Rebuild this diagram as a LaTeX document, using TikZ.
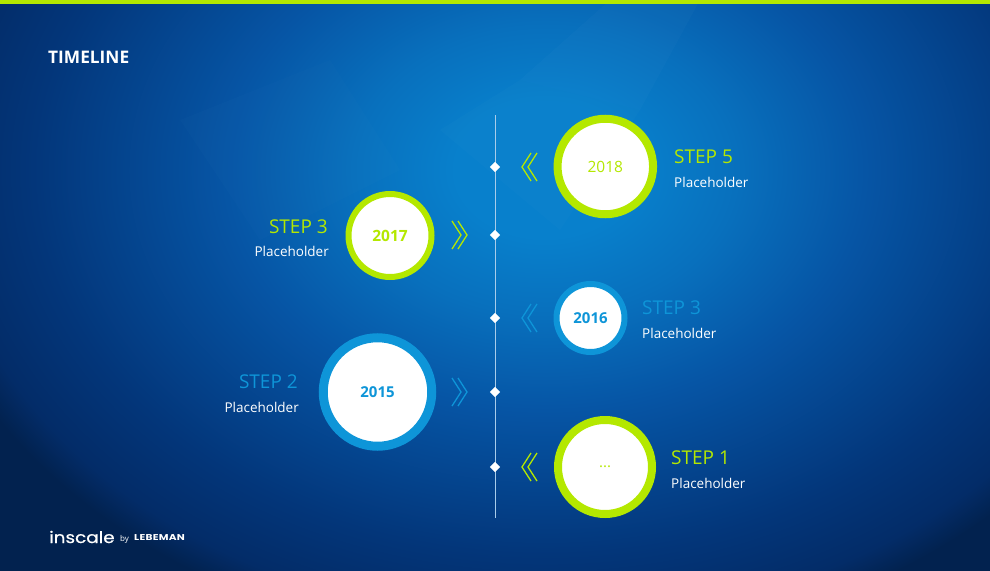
\documentclass[tikz,border=0pt]{standalone}
\usepackage{fontspec}
\setmainfont{Open Sans}
\newfontfamily\logofont[FakeStretch=1.15,FakeBold=0.6]{Poppins}
\newfontfamily\logowide[FakeStretch=1.25,LetterSpace=3]{Poppins}
\usetikzlibrary{shapes.geometric}
\definecolor{lime}{HTML}{B4E800}
\definecolor{sky}{HTML}{0E95D8}
\definecolor{spine}{HTML}{A8CCEA}
\definecolor{bgA}{HTML}{0880CC}
\definecolor{bgB}{HTML}{0870BD}
\definecolor{bgC}{HTML}{0655A5}
\definecolor{bgD}{HTML}{03367A}
\definecolor{bgF}{HTML}{032C68}
\definecolor{bgE}{HTML}{02224F}
\pgfdeclareradialshading{bgshade}{\pgfpoint{0bp}{0bp}}{%
  color(0bp)=(bgA); color(3.5bp)=(bgA); color(7.5bp)=(bgB); color(12.5bp)=(bgC); color(20bp)=(bgD); color(23.5bp)=(bgF); color(25bp)=(bgE); color(50bp)=(bgE)}
\tikzset{
  yearring/.style={circle,fill=white,inner sep=0pt,font=\bfseries\fontsize{15}{15}\selectfont},
  steptitle/.style={font=\fontsize{19}{19}\selectfont,inner sep=0pt},
  stepnote/.style={font=\fontsize{13.5}{14}\selectfont,text=white,inner sep=0pt},
  tick/.style={diamond,fill=white,inner sep=0pt,minimum size=10.5pt},
  chev/.style={line width=1.3pt,line join=miter,color=lime}
}
\newcommand{\chevl}[3]{% color, x of apex, y
  \draw[chev,color=#1] ({#2+9},{#3-14}) -- (#2,#3) -- ({#2+9},{#3+14});
  \draw[chev,color=#1] ({#2+15},{#3-14}) -- ({#2+6},#3) -- ({#2+15},{#3+14});}
\newcommand{\chevr}[3]{%
  \draw[chev,color=#1] ({#2-9},{#3-14}) -- (#2,#3) -- ({#2-9},{#3+14});
  \draw[chev,color=#1] ({#2-15},{#3-14}) -- ({#2-6},#3) -- ({#2-15},{#3+14});}
\begin{document}
\begin{tikzpicture}[x=1pt,y=-1pt]
\useasboundingbox (0,0) rectangle (990,570);
\fill[bgE] (-4,-4) rectangle (994,574);
\begin{scope}
  \clip (-4,-4) rectangle (994,574);
  \shade[shading=bgshade] (545,170) ellipse [x radius=640,y radius=480];
  \fill[white,opacity=.02] (520,80) -- (610,0) -- (700,0) -- (640,110) -- cycle;
  \fill[white,opacity=.015] (440,130) -- (520,80) -- (640,110) -- (560,230) -- cycle;
  \fill[white,opacity=.01] (180,120) -- (330,60) -- (400,170) -- (260,240) -- cycle;
\end{scope}
\fill[lime] (-4,-4) rectangle (994,3.5);
\node[anchor=west,inner sep=0pt,text=white,font=\bfseries\fontsize{17.3}{18}\selectfont] (title) at (48,57) {TIMELINE};

\coordinate (top) at (495,115);
\coordinate (bot) at (495,518);
\draw[spine,line width=1pt] (top) -- (bot);
\node[tick] (t5) at (495,167) {};
\node[tick] (t4) at (495,235) {};
\node[tick] (t3) at (495,318) {};
\node[tick] (t2) at (495,392) {};
\node[tick] (t1) at (495,467) {};

\chevl{lime}{522}{167}
\chevr{lime}{467}{235}
\chevl{sky}{522}{318}
\chevr{sky}{467}{392}
\chevl{lime}{522}{467}

\node[yearring,draw=lime,line width=8pt,text=lime,minimum size=95.5pt] (c5) at (605.3,166.5) {\mdseries\fontsize{15.5}{15}\selectfont 2018};
\node[yearring,draw=lime,line width=6pt,text=lime,minimum size=83pt] (c4) at (390,235.5) {\fontsize{15.5}{15}\selectfont 2017};
\node[yearring,draw=sky,line width=6pt,text=sky,minimum size=68pt] (c3) at (590.5,318) {2016};
\node[yearring,draw=sky,line width=9pt,text=sky,minimum size=108.5pt] (c2) at (377.5,392) {2015};
\node[yearring,draw=lime,line width=8pt,text=lime,minimum size=94pt] (c1) at (605,467) {\mdseries ...};

\node[steptitle,text=lime,anchor=west] (s5) at (674,157) {STEP 5};
\node[stepnote,anchor=west] (n5) at (674,182) {Placeholder};
\node[steptitle,text=lime,anchor=east] (s4) at (328,227) {STEP 3};
\node[stepnote,anchor=east] (n4) at (329,251) {Placeholder};
\node[steptitle,text=sky,anchor=west] (s3) at (642,308) {STEP 3};
\node[stepnote,anchor=west] (n3) at (642,333) {Placeholder};
\node[steptitle,text=sky,anchor=east] (s2) at (298,382) {STEP 2};
\node[stepnote,anchor=east] (n2) at (299,407) {Placeholder};
\node[steptitle,text=lime,anchor=west] (s1) at (671,458) {STEP 1};
\node[stepnote,anchor=west] (n1) at (671,483) {Placeholder};

\node[anchor=west,inner sep=0pt,text=white,font=\logofont\fontsize{16}{16}\selectfont] (lg) at (49,537) {inscale};
\node[anchor=west,inner sep=0pt,text=white,font=\fontsize{8}{8}\selectfont] (by) at (120,539) {by};
\node[anchor=west,inner sep=0pt,text=white,font=\logowide\bfseries\fontsize{8.5}{9}\selectfont] (lb) at (134,537.5) {LEBEMAN};
\end{tikzpicture}
\end{document}
